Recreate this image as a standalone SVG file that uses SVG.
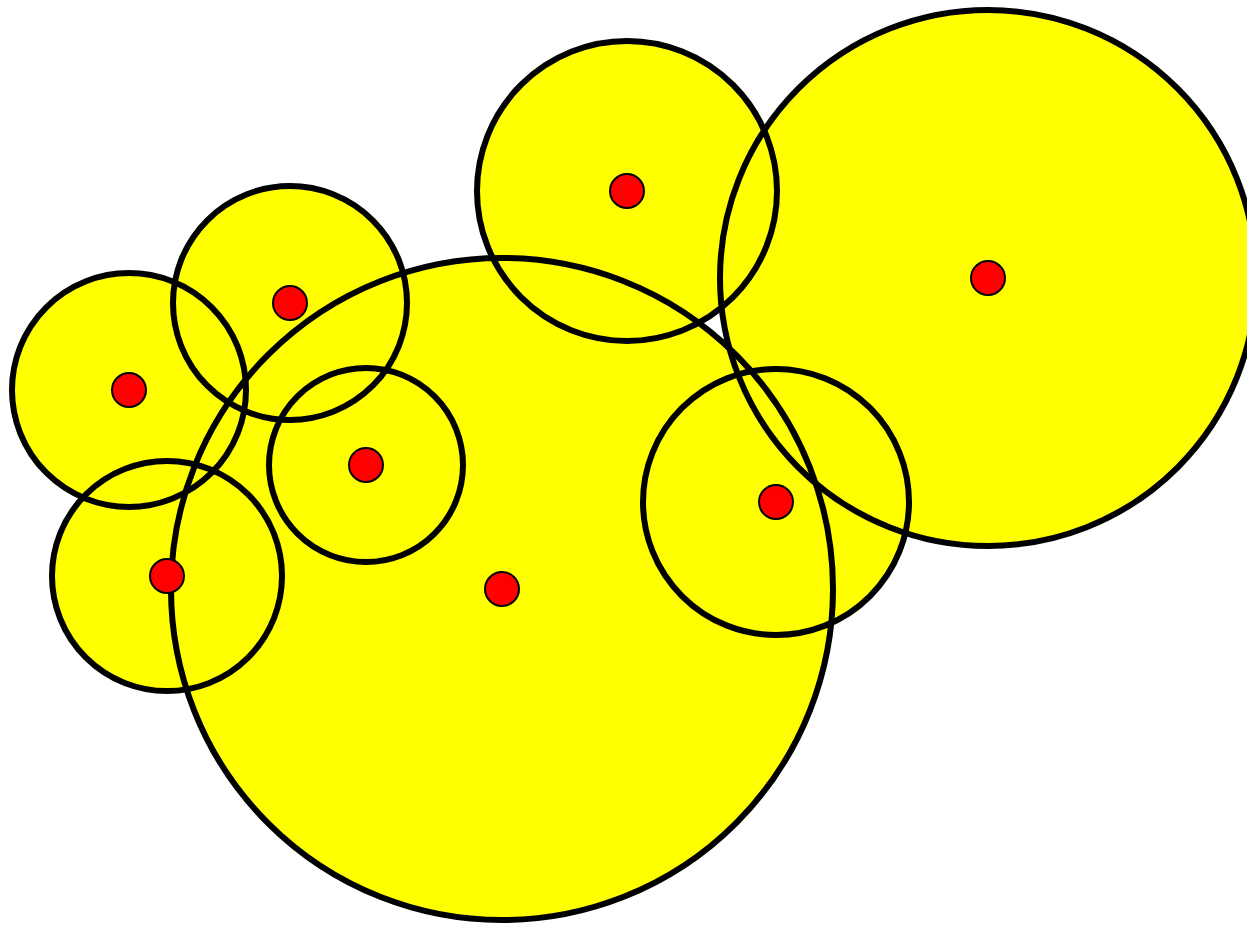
<svg xmlns="http://www.w3.org/2000/svg" width="1247" height="925" viewBox="0 0 1247 925">
<style>
.fill{fill:#ffff00;stroke:none}
.ring{fill:none;stroke:#000;stroke-width:6}
.dot{fill:#ff0000;stroke:#000;stroke-width:2}
</style>
<rect width="1247" height="925" fill="#fff"/>
<g id="fills">
<circle class="fill" cx="502" cy="589" r="331"/>
<circle class="fill" cx="988" cy="278" r="268"/>
<circle class="fill" cx="627" cy="191" r="150"/>
<circle class="fill" cx="776" cy="502" r="133"/>
<circle class="fill" cx="290" cy="303" r="117"/>
<circle class="fill" cx="129" cy="390" r="117"/>
<circle class="fill" cx="366" cy="465" r="97"/>
<circle class="fill" cx="167" cy="576" r="115"/>
</g>
<g id="rings">
<circle class="ring" cx="502" cy="589" r="331"/>
<circle class="ring" cx="988" cy="278" r="268"/>
<circle class="ring" cx="627" cy="191" r="150"/>
<circle class="ring" cx="776" cy="502" r="133"/>
<circle class="ring" cx="290" cy="303" r="117"/>
<circle class="ring" cx="129" cy="390" r="117"/>
<circle class="ring" cx="366" cy="465" r="97"/>
<circle class="ring" cx="167" cy="576" r="115"/>
</g>
<g id="dots">
<circle class="dot" cx="502" cy="589" r="17"/>
<circle class="dot" cx="988" cy="278" r="17"/>
<circle class="dot" cx="627" cy="191" r="17"/>
<circle class="dot" cx="776" cy="502" r="17"/>
<circle class="dot" cx="290" cy="303" r="17"/>
<circle class="dot" cx="129" cy="390" r="17"/>
<circle class="dot" cx="366" cy="465" r="17"/>
<circle class="dot" cx="167" cy="576" r="17"/>
</g>
</svg>
